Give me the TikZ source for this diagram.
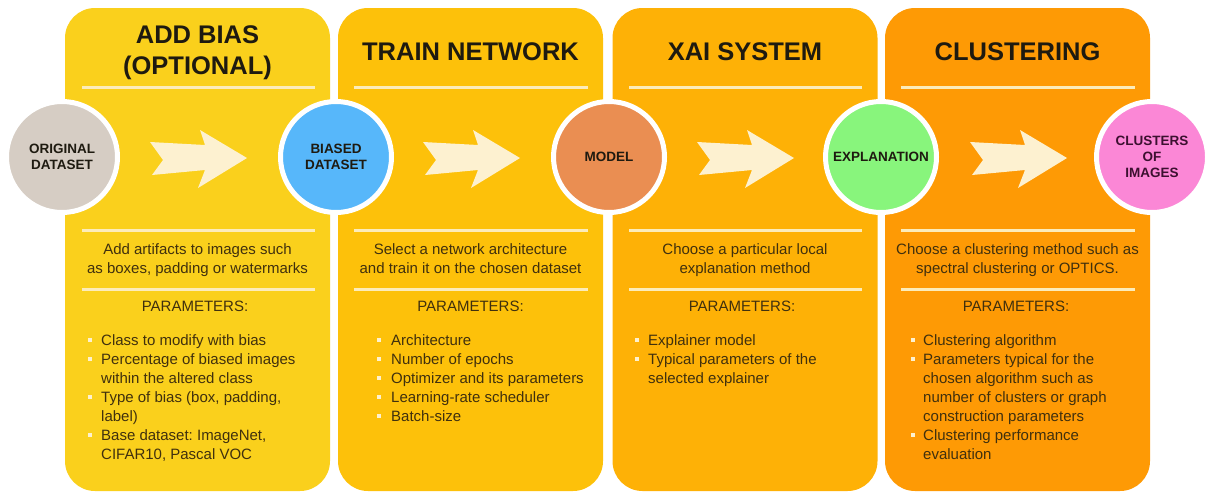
\documentclass[tikz,border=0pt]{standalone}
\usepackage{fontspec}
\setmainfont{Liberation Sans}
\frenchspacing

\definecolor{panelA}{RGB}{250,208,28}
\definecolor{panelB}{RGB}{253,193,10}
\definecolor{panelC}{RGB}{254,177,6}
\definecolor{panelD}{RGB}{254,154,5}
\definecolor{cream}{RGB}{253,241,208}
\definecolor{rule}{RGB}{252,236,186}
\definecolor{titlecol}{RGB}{30,26,16}
\definecolor{bodycol}{RGB}{64,48,14}
\definecolor{cGray}{RGB}{214,205,196}
\definecolor{cBlue}{RGB}{87,183,250}
\definecolor{cOrange}{RGB}{234,142,82}
\definecolor{cGreen}{RGB}{136,245,124}
\definecolor{cPink}{RGB}{251,135,214}
\definecolor{pinktext}{RGB}{60,16,48}

\tikzset{
  panel/.style={rectangle, rounded corners=30pt, minimum width=265pt,
    minimum height=483pt, inner sep=0pt, draw=none},
  stage/.style={circle, minimum size=111pt, inner sep=0pt, draw=white,
    line width=5pt, align=center, text=titlecol,
    font=\bfseries\fontsize{13.5}{16}\selectfont},
  title/.style={anchor=base, align=center, text=titlecol,
    font=\bfseries\fontsize{25.5}{31}\selectfont},
  desc/.style={anchor=base, align=center, text=bodycol,
    font=\fontsize{15}{19}\selectfont},
  params/.style={anchor=base, text=bodycol, font=\fontsize{15}{19}\selectfont},
  itemtext/.style={anchor=base west, align=left, inner sep=0pt, text=bodycol,
    font=\fontsize{15}{19}\selectfont},
  sep/.style={draw=rule, line width=3pt},
  flow/.style={fill=cream, draw=none},
  dotmark/.style={fill=cream},
}

% bullet item: name, text x, dot x, first baseline, last baseline, text
% (a multi-line node sits on the baseline of its last line)
\newcommand\bulletitem[6]{%
  \node[itemtext] (#1) at (#2,#5) {#6};
  \fill[dotmark] (#3-2,#4-7.5) rectangle (#3+2,#4-3.5);
}
% notched flow arrow centred on a point
\newcommand\flowarrow[2]{%
  \fill[flow, shift={(#1,#2)}] (-47,-15) -- (8,-12) -- (3,-27) -- (50,1)
    -- (1,31) -- (8,13) -- (-45,18) -- (-34,3) -- cycle;
}

\begin{document}
\begin{tikzpicture}[x=1pt, y=-1pt]
\useasboundingbox (0,0) rectangle (1206,493);

% stage panels
\node[panel, fill=panelA] (p1) at (197.5,249.5) {};
\node[panel, fill=panelB] (p2) at (470.5,249.5) {};
\node[panel, fill=panelC] (p3) at (745,249.5) {};
\node[panel, fill=panelD] (p4) at (1017.5,249.5) {};

% titles
\node[title] (t1a) at (197.5,43) {ADD BIAS};
\node[title] (t1b) at (197.5,74) {(OPTIONAL)};
\node[title] (t2) at (470.5,60) {TRAIN NETWORK};
\node[title] (t3) at (745,60) {XAI SYSTEM};
\node[title] (t4) at (1017.5,60) {CLUSTERING};

% separator rules
\foreach \a/\b in {82/315, 354/588, 629/862, 901/1135} {
  \draw[sep] (\a,87) -- (\b,87);
  \draw[sep] (\a,230) -- (\b,230);
  \draw[sep] (\a,289) -- (\b,289);
}

% flow arrows
\flowarrow{197}{157}
\flowarrow{470}{157}
\flowarrow{744}{157}
\flowarrow{1017}{157}

% stage circles
\node[stage, fill=cGray] (orig) at (62,157) {ORIGINAL\\DATASET};
\node[stage, fill=cBlue] (biased) at (336,157) {BIASED\\DATASET};
\node[stage, fill=cOrange] (model) at (609,157) {MODEL};
\node[stage, fill=cGreen] (expl) at (881,157) {EXPLANATION};
\node[stage, fill=cPink, text=pinktext] (clus) at (1152,157) {CLUSTERS\\OF\\IMAGES};

% descriptions (baseline of the second line)
\node[desc] (d1) at (197.5,273) {Add artifacts to images such\\as boxes, padding or watermarks};
\node[desc] (d2) at (470.5,273) {Select a network architecture\\and train it on the chosen dataset};
\node[desc] (d3) at (745,273) {Choose a particular local\\explanation method};
\node[desc] (d4) at (1017.5,273) {Choose a clustering method such as\\spectral clustering or OPTICS.};

% parameter headings
\node[params] (h1) at (195,311) {PARAMETERS:};
\node[params] (h2) at (470.5,311) {PARAMETERS:};
\node[params] (h3) at (742,311) {PARAMETERS:};
\node[params] (h4) at (1016,311) {PARAMETERS:};

% parameter lists
\bulletitem{a1}{101}{90}{345}{345}{Class to modify with bias}
\bulletitem{a2}{101}{90}{364}{383}{Percentage of biased images\\within the altered class}
\bulletitem{a3}{101}{90}{402}{421}{Type of bias (box, padding,\\label)}
\bulletitem{a4}{101}{90}{440}{459}{Base dataset: ImageNet,\\CIFAR10, Pascal VOC}

\bulletitem{b1}{391}{379}{345}{345}{Architecture}
\bulletitem{b2}{391}{379}{364}{364}{Number of epochs}
\bulletitem{b3}{391}{379}{383}{383}{Optimizer and its parameters}
\bulletitem{b4}{391}{379}{402}{402}{Learning-rate scheduler}
\bulletitem{b5}{391}{379}{421}{421}{Batch-size}

\bulletitem{c1}{648}{637}{345}{345}{Explainer model}
\bulletitem{c2}{648}{637}{364}{383}{Typical parameters of the\\selected explainer}

\bulletitem{e1}{923}{913}{345}{345}{Clustering algorithm}
\bulletitem{e2}{923}{913}{364}{421}{Parameters typical for the\\chosen algorithm such as\\number of clusters or graph\\construction parameters}
\bulletitem{e3}{923}{913}{440}{459}{Clustering performance\\evaluation}
\end{tikzpicture}
\end{document}
